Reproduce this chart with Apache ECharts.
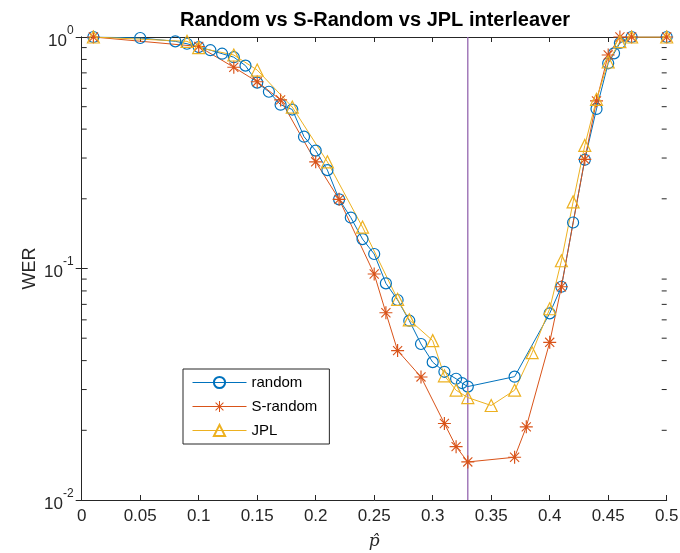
<!DOCTYPE html>
<html>
<head>
<meta charset="utf-8">
<script src="https://cdn.jsdelivr.net/npm/echarts@6/dist/echarts.min.js"></script>
<style>html,body{margin:0;padding:0;background:#fff;}#c{width:680px;height:553px;}</style>
</head>
<body>
<div id="c"></div>
<script>
// ---- data ----
const randomX = [0.01, 0.05, 0.08, 0.09, 0.10, 0.11, 0.12, 0.13, 0.14, 0.15, 0.16, 0.17, 0.18, 0.19, 0.20, 0.21, 0.22, 0.23, 0.24, 0.25, 0.26, 0.27, 0.28, 0.29, 0.30, 0.31, 0.32, 0.325, 0.33, 0.37, 0.40, 0.41, 0.42, 0.43, 0.44, 0.45, 0.455, 0.46, 0.47, 0.50];
const randomY = [1.0, 0.99, 0.958, 0.935, 0.905, 0.877, 0.847, 0.818, 0.752, 0.635, 0.580, 0.510, 0.486, 0.371, 0.323, 0.266, 0.199, 0.166, 0.134, 0.1155, 0.0863, 0.0731, 0.0595, 0.0472, 0.0394, 0.0358, 0.0334, 0.0320, 0.0309, 0.0341, 0.0640, 0.0834, 0.158, 0.295, 0.489, 0.770, 0.850, 0.942, 1.0, 1.0];

const srandomX = [0.01, 0.10, 0.13, 0.15, 0.17, 0.20, 0.22, 0.25, 0.26, 0.27, 0.29, 0.31, 0.32, 0.33, 0.37, 0.38, 0.40, 0.41, 0.43, 0.44, 0.45, 0.46, 0.47, 0.50];
const srandomY = [1.0, 0.910, 0.740, 0.641, 0.535, 0.289, 0.199, 0.0947, 0.0644, 0.0442, 0.0340, 0.0214, 0.0170, 0.0146, 0.0153, 0.0207, 0.0480, 0.0834, 0.296, 0.530, 0.836, 1.0, 1.0, 1.0];

const jplX = [0.01, 0.09, 0.10, 0.13, 0.15, 0.18, 0.21, 0.24, 0.27, 0.28, 0.30, 0.31, 0.32, 0.33, 0.35, 0.37, 0.385, 0.40, 0.41, 0.42, 0.43, 0.44, 0.45, 0.46, 0.47, 0.50];
const jplY = [1.0, 0.958, 0.900, 0.836, 0.720, 0.498, 0.289, 0.151, 0.0736, 0.0600, 0.0488, 0.0344, 0.0298, 0.0277, 0.0256, 0.0298, 0.0433, 0.0670, 0.108, 0.194, 0.340, 0.538, 0.780, 0.955, 1.0, 1.0];

const thresholdX = 0.33;
const xMin = 0, xMax = 0.5, xStep = 0.05;
const yMin = 0.01, yMax = 1;
const yMinorTicks = [0.02, 0.03, 0.04, 0.05, 0.06, 0.07, 0.08, 0.09, 0.2, 0.3, 0.4, 0.5, 0.6, 0.7, 0.8, 0.9];

const seriesNames = ['random', 'S-random', 'JPL'];
const colors = ['#0072BD', '#D95319', '#EDB120'];
const purple = '#9466B0';
const axisColor = '#262626';
const FONT = '"Liberation Sans", Arial, Helvetica, sans-serif';

const starPath = 'path://M9.1 0H10.9V20H9.1Z M0 9.1H20V10.9H0Z M2.4 3.6L3.6 2.4L17.6 16.4L16.4 17.6Z M16.4 2.4L17.6 3.6L3.6 17.6L2.4 16.4Z';

function pairs(xs, ys) { return xs.map((x, i) => [x, ys[i]]); }

const chart = echarts.init(document.getElementById('c'), null, {renderer: 'canvas'});

function lineSeries(name, xs, ys, color, symbol, size) {
  const hollow = symbol !== starPath;
  return {
    name: name,
    type: 'line',
    data: pairs(xs, ys),
    symbol: symbol,
    symbolSize: size,
    showAllSymbol: true,
    animation: false,
    lineStyle: {color: color, width: 1},
    itemStyle: hollow ? {color: 'rgba(255,255,255,0)', borderColor: color, borderWidth: 1.2}
                      : {color: color, borderWidth: 0},
    emphasis: {disabled: true},
    z: 3
  };
}

const option = {
  backgroundColor: '#fff',
  animation: false,
  title: {
    text: 'Random vs S-Random vs JPL interleaver',
    left: 370,
    textAlign: 'center',
    top: 5,
    textStyle: {fontFamily: FONT, fontSize: 20, fontWeight: 'bold', color: '#000'}
  },
  legend: {
    data: seriesNames,
    orient: 'vertical',
    left: 183,
    top: 369,
    itemWidth: 54,
    itemHeight: 14,
    itemGap: 9,
    itemTextGap: 5,
    padding: [6, 12, 6, 9],
    borderColor: axisColor,
    borderWidth: 1,
    backgroundColor: '#fff',
    lineStyle: {width: 1},
    textStyle: {fontFamily: FONT, fontSize: 15, color: '#000'}
  },
  grid: {left: 81.7, right: 13.3, top: 37, bottom: 53, outerBoundsMode: 'none', containLabel: false},
  xAxis: [{
    type: 'value', min: xMin, max: xMax, interval: xStep,
    position: 'bottom',
    axisLine: {show: true, lineStyle: {color: axisColor, width: 1}},
    axisTick: {show: true, inside: true, length: 5, lineStyle: {color: axisColor}},
    axisLabel: {fontFamily: FONT, fontSize: 17, color: axisColor, margin: 8},
    splitLine: {show: false},
    name: 'p\u0302',
    nameLocation: 'middle',
    nameGap: 33,
    nameTextStyle: {fontFamily: '"DejaVu Serif", "Liberation Serif", serif', fontStyle: 'italic', fontSize: 17, color: axisColor}
  }, {
    type: 'value', min: xMin, max: xMax, interval: xStep,
    position: 'top',
    axisLine: {show: true, lineStyle: {color: axisColor, width: 1}},
    axisTick: {show: true, inside: true, length: 5, lineStyle: {color: axisColor}},
    axisLabel: {show: false},
    splitLine: {show: false}
  }],
  yAxis: [{
    type: 'log', logBase: 10, min: yMin, max: yMax,
    position: 'left',
    axisLine: {show: true, lineStyle: {color: axisColor, width: 1}},
    axisTick: {show: true, inside: true, length: 6, lineStyle: {color: axisColor}},
    axisLabel: {
      margin: 8,
      formatter: function (v) {
        const e = Math.round(Math.log10(v));
        return '{b|10}{s|' + e + '}';
      },
      rich: {
        b: {fontFamily: FONT, fontSize: 17, color: axisColor, lineHeight: 25, verticalAlign: 'bottom'},
        s: {fontFamily: FONT, fontSize: 12, color: axisColor, lineHeight: 25, verticalAlign: 'top'}
      }
    },
    splitLine: {show: false},
    name: 'WER',
    nameLocation: 'middle',
    nameGap: 43,
    nameMoveOverlap: false,
    nameRotate: 90,
    nameTextStyle: {fontFamily: FONT, fontSize: 18, color: axisColor}
  }, {
    type: 'log', logBase: 10, min: yMin, max: yMax,
    position: 'right',
    axisLine: {show: true, lineStyle: {color: axisColor, width: 1}},
    axisTick: {show: true, inside: true, length: 6, lineStyle: {color: axisColor}},
    axisLabel: {show: false},
    splitLine: {show: false}
  }],
  series: [
    {
      name: 'threshold',
      type: 'line',
      data: [[thresholdX, yMin], [thresholdX, yMax]],
      symbol: 'none',
      lineStyle: {color: purple, width: 1.3},
      silent: true,
      z: 2
    },
    {
      name: 'minorTicks',
      type: 'custom',
      silent: true,
      clip: false,
      data: yMinorTicks.map(v => [xMin, v]),
      renderItem: function (params, api) {
        const v = api.value(1);
        const pl = api.coord([xMin, v]);
        const pr = api.coord([xMax, v]);
        const st = {stroke: axisColor, lineWidth: 1};
        return {
          type: 'group',
          children: [
            {type: 'line', shape: {x1: pl[0], y1: pl[1], x2: pl[0] + 5, y2: pl[1]}, style: st},
            {type: 'line', shape: {x1: pr[0] - 5, y1: pr[1], x2: pr[0], y2: pr[1]}, style: st}
          ]
        };
      },
      z: 1
    },
    lineSeries('random', randomX, randomY, colors[0], 'circle', 11),
    lineSeries('S-random', srandomX, srandomY, colors[1], starPath, 13),
    lineSeries('JPL', jplX, jplY, colors[2], 'triangle', 12)
  ]
};

chart.setOption(option);
</script>
</body>
</html>
